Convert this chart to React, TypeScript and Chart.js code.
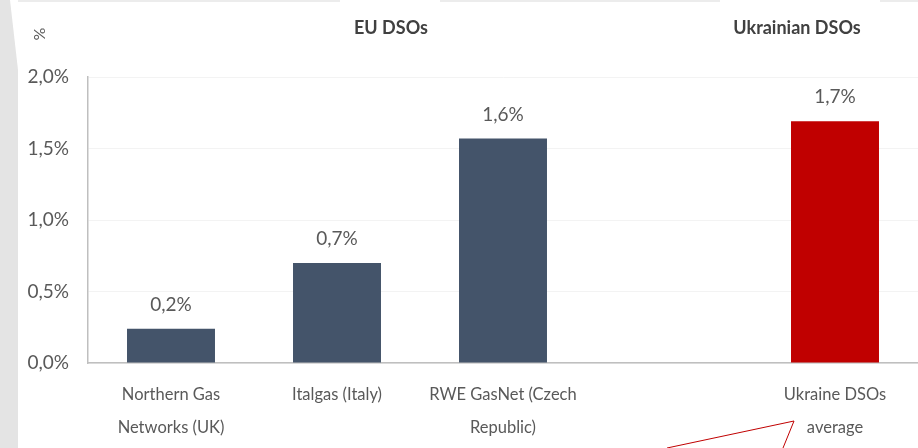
import React, { useEffect, useRef } from "react";
import { Chart, registerables } from "chart.js";

Chart.register(...registerables);

const categories: (string | string[])[] = [
  ["Northern Gas", "Networks (UK)"],
  "Italgas (Italy)",
  ["RWE GasNet (Czech", "Republic)"],
  "",
  ["Ukraine DSOs", "average"],
];
const values: (number | null)[] = [0.24, 0.7, 1.57, null, 1.69];
const valueLabels: string[] = ["0,2%", "0,7%", "1,6%", "", "1,7%"];
const barColors: string[] = ["#44546a", "#44546a", "#44546a", "#44546a", "#c00000"];
const yTicks: number[] = [0, 0.5, 1, 1.5, 2];
const groupTitles: string[] = ["EU DSOs", "Ukrainian DSOs"];
const unitLabel = "%";

const FONT = "Lato, 'Open Sans', sans-serif";
const TEXT = "#595959";

const decorPlugin = {
  id: "decor",
  beforeDraw(chart: any) {
    const ctx = chart.ctx;
    ctx.save();
    // left grey stripe
    ctx.fillStyle = "#e4e4e4";
    ctx.beginPath();
    ctx.moveTo(0, 0);
    ctx.lineTo(10, 0);
    ctx.lineTo(18, 70);
    ctx.lineTo(18, 448);
    ctx.lineTo(0, 448);
    ctx.closePath();
    ctx.fill();
    // top faint border with gaps
    ctx.strokeStyle = "#ececec";
    ctx.lineWidth = 2;
    ctx.beginPath();
    ctx.moveTo(18, 1);
    ctx.lineTo(340, 1);
    ctx.moveTo(440, 1);
    ctx.lineTo(720, 1);
    ctx.moveTo(880, 1);
    ctx.lineTo(918, 1);
    ctx.stroke();
    ctx.restore();
  },
  afterDraw(chart: any) {
    const ctx = chart.ctx;
    const meta = chart.getDatasetMeta(0);
    ctx.save();
    // value labels
    ctx.fillStyle = TEXT;
    ctx.font = `19px ${FONT}`;
    ctx.textAlign = "center";
    ctx.textBaseline = "middle";
    meta.data.forEach((bar: any, i: number) => {
      if (values[i] == null) return;
      ctx.fillText(valueLabels[i], bar.x, bar.y - 24);
    });
    // group titles
    ctx.font = `bold 18px ${FONT}`;
    ctx.fillStyle = "#404040";
    const x = chart.scales.x;
    const euCenter = (x.getPixelForValue(0) + x.getPixelForValue(2)) / 2 + 54;
    ctx.fillText(groupTitles[0], euCenter, 28);
    ctx.fillText(groupTitles[1], x.getPixelForValue(4) - 38, 28);
    // unit label
    ctx.save();
    ctx.translate(40, 34);
    ctx.rotate(-Math.PI / 2);
    ctx.font = `16px ${FONT}`;
    ctx.fillStyle = TEXT;
    ctx.fillText(unitLabel, 0, 0);
    ctx.restore();
    // red annotation line
    ctx.strokeStyle = "#c00000";
    ctx.lineWidth = 1;
    ctx.beginPath();
    ctx.moveTo(667, 448);
    ctx.lineTo(794, 421);
    ctx.lineTo(783, 448);
    ctx.stroke();
    ctx.restore();
  },
};

export default function App() {
  const ref = useRef<HTMLCanvasElement | null>(null);
  useEffect(() => {
    if (!ref.current) return;
    const chart = new Chart(ref.current, {
      type: "bar",
      data: {
        labels: categories,
        datasets: [
          {
            data: values,
            backgroundColor: barColors,
            barPercentage: 0.53,
            categoryPercentage: 1,
          },
        ],
      },
      options: {
        responsive: false,
        animation: false,
        layout: { padding: { top: 77, left: 0, right: 0, bottom: 0 } },
        plugins: { legend: { display: false }, tooltip: { enabled: false } },
        scales: {
          x: {
            grid: { display: false, drawTicks: false },
            border: { color: "#bfbfbf", width: 1.5 },
            ticks: {
              color: TEXT,
              font: { family: FONT, size: 16.5, lineHeight: 1.95 },
              padding: 16,
              maxRotation: 0,
              autoSkip: false,
            },
            afterFit: (s: any) => {
              s.height = 85;
            },
          },
          y: {
            min: 0,
            max: 2,
            afterBuildTicks: (s: any) => {
              s.ticks = yTicks.map((v) => ({ value: v }));
            },
            grid: { color: "#f3f3f3", drawTicks: false },
            border: { color: "#bfbfbf", width: 1.5 },
            ticks: {
              color: TEXT,
              font: { family: FONT, size: 19 },
              padding: 19,
              callback: (v: any) => Number(v).toFixed(1).replace(".", ",") + "%",
            },
            afterFit: (s: any) => {
              s.width = 88;
            },
          },
        },
      },
      plugins: [decorPlugin],
    });
    return () => chart.destroy();
  }, []);
  return (
    <div style={{ position: "absolute", left: 0, top: 0, width: 918, height: 448, background: "#fff" }}>
      <canvas ref={ref} width={918} height={448} />
    </div>
  );
}
